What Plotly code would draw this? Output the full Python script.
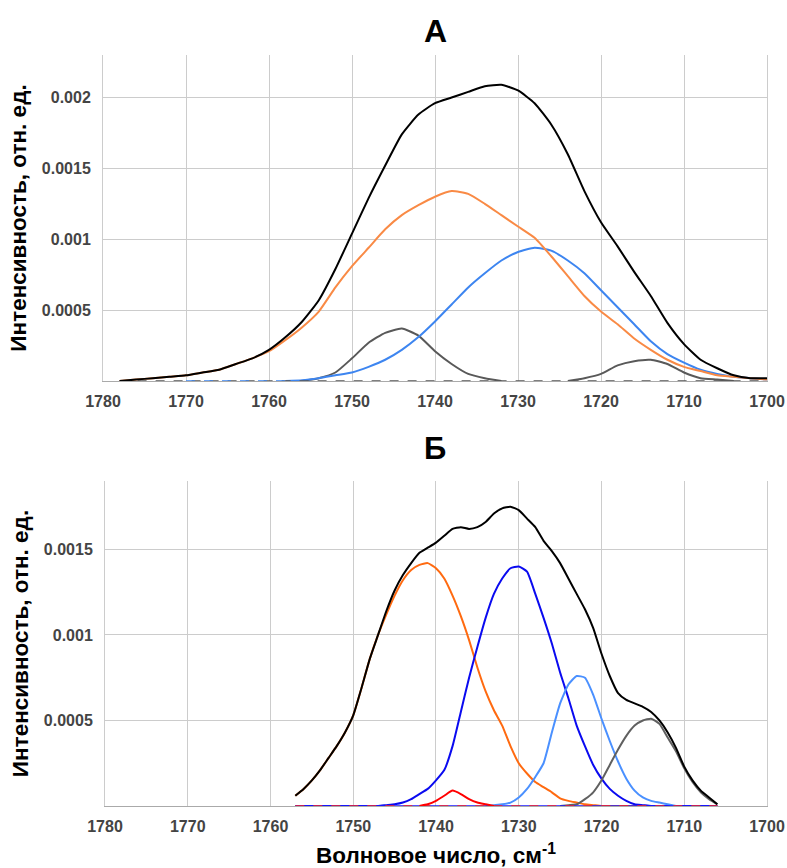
import plotly.graph_objects as go

# ---------------- Panel A data ----------------
x_top = [1778, 1776, 1774, 1772, 1770, 1768, 1766, 1764, 1762, 1760,
         1758, 1756, 1754, 1752, 1750, 1748, 1746, 1744, 1742, 1740,
         1738, 1736, 1734, 1732, 1730, 1728, 1726, 1724, 1722, 1720,
         1718, 1716, 1714, 1712, 1710, 1708, 1706, 1704, 1702, 1700]

a_total = [0.0, 0.00001, 0.00002, 0.00003, 0.00004, 0.00006, 0.00008, 0.00012, 0.00016, 0.00022,
           0.00031, 0.00042, 0.00057, 0.00079, 0.00104, 0.00129, 0.00152, 0.00174, 0.00188, 0.00196,
           0.00200, 0.00204, 0.00208, 0.00209, 0.00205, 0.00196, 0.00181, 0.00160, 0.00134, 0.00112,
           0.00095, 0.00077, 0.00060, 0.00041, 0.00026, 0.00015, 0.00009, 0.00004, 0.00002, 0.00002]

a_orange = [0.0, 0.00001, 0.00002, 0.00003, 0.00004, 0.00006, 0.00008, 0.00012, 0.00016, 0.00021,
            0.00029, 0.00038, 0.00049, 0.00066, 0.00081, 0.00094, 0.00107, 0.00117, 0.00124, 0.00130,
            0.00134, 0.00132, 0.00125, 0.00117, 0.00109, 0.00101, 0.00088, 0.00074, 0.00060, 0.00049,
            0.00040, 0.00030, 0.00022, 0.00015, 0.00010, 0.00007, 0.00004, 0.00003, 0.00002, 0.00001]

a_blue = [None, None, None, None, None, None, None, None, None, None,
          0.0, 0.000005, 0.00002, 0.00004, 0.00006, 0.00010, 0.00015, 0.00022, 0.00031, 0.00042,
          0.00054, 0.00066, 0.00076, 0.00085, 0.00091, 0.00094, 0.00092, 0.00085, 0.00076, 0.00064,
          0.00052, 0.00040, 0.00028, 0.00019, 0.00013, 0.00008, 0.00005, 0.00003, 0.00002, 0.00001]

x_a_gray1 = [1756, 1754, 1752, 1750, 1748, 1746, 1744, 1742, 1740, 1738, 1736, 1734, 1732]
a_gray1 = [0.0, 0.00002, 0.00006, 0.00016, 0.00027, 0.00034, 0.00037, 0.00032, 0.00021, 0.00012,
           0.00005, 0.00002, 0.0]

x_a_gray2 = [1724, 1722, 1720, 1718, 1716, 1714, 1712, 1710, 1708, 1706, 1704]
a_gray2 = [0.0, 0.00002, 0.00005, 0.00011, 0.00014, 0.00015, 0.00012, 0.00006, 0.00002, 0.00001, 0.0]

x_a_base = [1778, 1700]
a_base = [0.0, 0.0]
x_a_blue_base = [1770, 1758]
a_blue_base = [0.0, 0.0]

# ---------------- Panel Б data ----------------
x_bot = [1757, 1756, 1755, 1754, 1753, 1752, 1751, 1750, 1749, 1748,
         1747, 1746, 1745, 1744, 1743, 1742, 1741, 1740, 1739, 1738,
         1737, 1736, 1735, 1734, 1733, 1732, 1731, 1730, 1729, 1728,
         1727, 1726, 1725, 1724, 1723, 1722, 1721, 1720, 1719, 1718,
         1717, 1716, 1715, 1714, 1713, 1712, 1711, 1710, 1709, 1708,
         1707, 1706]

b_total = [0.00006, 0.00010, 0.00015, 0.00021, 0.00028, 0.00035, 0.00043, 0.00053, 0.00069, 0.00086,
           0.00100, 0.00114, 0.00126, 0.00135, 0.00142, 0.00148, 0.00151, 0.00154, 0.00158, 0.00162,
           0.00163, 0.00162, 0.00163, 0.00166, 0.00171, 0.00174, 0.00175, 0.00173, 0.00168, 0.00163,
           0.00155, 0.00149, 0.00142, 0.00133, 0.00124, 0.00115, 0.00104, 0.00089, 0.00076, 0.00066,
           0.00062, 0.00060, 0.00058, 0.00055, 0.00050, 0.00043, 0.00034, 0.00023, 0.00015, 0.00009,
           0.00005, 0.00001]

b_orange = [0.00006, 0.00010, 0.00015, 0.00021, 0.00028, 0.00035, 0.00043, 0.00053, 0.00069, 0.00086,
            0.00100, 0.00112, 0.00123, 0.00132, 0.00138, 0.00141, 0.00142, 0.00139, 0.00133, 0.00123,
            0.00111, 0.00097, 0.00081, 0.00067, 0.00056, 0.00047, 0.00035, 0.00025, 0.00019, 0.00014,
            0.00011, 0.00008, 0.000045, 0.00003, 0.00002, 0.00001, 0.000005, 0.0, 0.0, 0.0,
            0.0, 0.0, 0.0, 0.0, 0.0, 0.0, 0.0, 0.0, 0.0, 0.0,
            0.0, 0.0]

b_blue = [0.0, 0.0, 0.0, 0.0, 0.0, 0.0, 0.0, 0.0, 0.0, 0.0,
          0.0, 0.000005, 0.00001, 0.00002, 0.00004, 0.00007, 0.00010, 0.00015, 0.00021, 0.00035,
          0.00055, 0.00075, 0.00093, 0.00110, 0.00124, 0.00133, 0.00139, 0.00140, 0.00137, 0.00124,
          0.00110, 0.00095, 0.00078, 0.00063, 0.00047, 0.00035, 0.00024, 0.00016, 0.00010, 0.00006,
          0.00003, 0.00001, 0.000005, 0.0, 0.0, 0.0, 0.0, 0.0, 0.0, 0.0,
          0.0, 0.0]

x_b_light = [1734, 1733, 1732, 1731, 1730, 1729, 1728, 1727, 1726, 1725,
             1724, 1723, 1722, 1721, 1720, 1719, 1718, 1717, 1716, 1715,
             1714, 1713, 1712, 1711]
b_light = [0.0, 0.000005, 0.00001, 0.00002, 0.00005, 0.00010, 0.00017, 0.00025, 0.00043, 0.00060,
           0.00071, 0.00076, 0.00075, 0.00065, 0.00051, 0.00038, 0.00026, 0.00016, 0.00009, 0.00005,
           0.00003, 0.00002, 0.00001, 0.0]

x_b_gray = [1725, 1724, 1723, 1722, 1721, 1720, 1719, 1718, 1717, 1716,
            1715, 1714, 1713, 1712, 1711, 1710, 1709, 1708, 1707, 1706]
b_gray = [0.0, 0.000005, 0.00001, 0.00004, 0.00008, 0.00015, 0.00024, 0.00033, 0.00041, 0.00047,
          0.00050, 0.00051, 0.00048, 0.00040, 0.00032, 0.00022, 0.00014, 0.00008, 0.00004, 0.00001]

x_b_red = [1742, 1741, 1740, 1739, 1738, 1737, 1736, 1735, 1734, 1733]
b_red = [0.0, 0.00001, 0.00003, 0.00006, 0.00009, 0.00007, 0.00004, 0.00002, 0.00001, 0.0]

x_b_base = [1757, 1706]
b_base = [0.0, 0.0]

y_ticks_top = [0.0005, 0.001, 0.0015, 0.002]
y_text_top = ["0.0005", "0.001", "0.0015", "0.002"]
y_ticks_bot = [0.0005, 0.001, 0.0015]
y_text_bot = ["0.0005", "0.001", "0.0015"]
x_ticks = [1780, 1770, 1760, 1750, 1740, 1730, 1720, 1710, 1700]

# ---------------- Figure ----------------
FONT = "Liberation Sans"
fig = go.Figure()


def line(x, y, color, xa, ya, width=2, dash="solid"):
    fig.add_trace(go.Scatter(
        x=x, y=y, mode="lines", xaxis=xa, yaxis=ya,
        line=dict(color=color, width=width, dash=dash, shape="spline", smoothing=0.5),
        showlegend=False, hoverinfo="skip"))


# Panel A
line(x_a_gray1, a_gray1, "#595959", "x", "y")
line(x_a_gray2, a_gray2, "#595959", "x", "y")
line(x_top, a_blue, "#3d85f0", "x", "y")
line(x_top, a_orange, "#f98a45", "x", "y")
line(x_a_base, a_base, "#555555", "x", "y", 1.5, "dash")
line(x_a_blue_base, a_blue_base, "#3d85f0", "x", "y", 1.5, "dash")
line(x_top, a_total, "#000000", "x", "y")

# Panel Б
line(x_bot, b_orange, "#ff6a10", "x2", "y2")
line(x_bot, b_blue, "#0a0af0", "x2", "y2")
line(x_b_light, b_light, "#4a90ff", "x2", "y2")
line(x_b_gray, b_gray, "#606060", "x2", "y2")
line(x_b_base, b_base, "#1a1aff", "x2", "y2", 1.5)
line(x_b_base, b_base, "#ff2020", "x2", "y2", 1.5, "dash")
line(x_b_red, b_red, "#ff0000", "x2", "y2")
line(x_bot, b_total, "#000000", "x2", "y2")

tickfont = dict(family=FONT, size=16, color="#444444", weight="bold")
title_font = dict(family=FONT, size=22.5, color="#000000", weight="bold")

H = 868
mt, mb = 55, 62
ph = H - mt - mb


def py(p):
    return (H - mb - p) / ph


xcommon = dict(range=[1780, 1700], tickvals=x_ticks, showgrid=True, gridcolor="#cccccc",
               gridwidth=1, zeroline=False, showline=True, linecolor="#aaaaaa", linewidth=1,
               tickfont=tickfont, ticks="outside", ticklen=6, tickcolor="rgba(0,0,0,0)",
               automargin=False, layer="below traces")
ycommon = dict(showgrid=True, gridcolor="#cccccc", gridwidth=1, zeroline=False,
               showline=True, linecolor="#cccccc", mirror=True, tickfont=tickfont,
               ticks="outside", ticklen=8, tickcolor="rgba(0,0,0,0)", automargin=False,
               layer="below traces",
               title=dict(text="Интенсивность, отн. ед.", font=title_font, standoff=8))

fig.update_layout(
    width=787, height=868,
    margin=dict(l=103, r=20, t=mt, b=mb),
    paper_bgcolor="white", plot_bgcolor="white",
    xaxis=dict(domain=[0, 1], anchor="y", **xcommon),
    yaxis=dict(domain=[py(381), 1], anchor="x", range=[0, 0.0023],
               tickvals=y_ticks_top, ticktext=y_text_top, **ycommon),
    xaxis2=dict(domain=[0.003, 1], anchor="y2",
                title=dict(text="Волновое число, см<sup>-1</sup>", font=title_font, standoff=20),
                **xcommon),
    yaxis2=dict(domain=[0, py(481)], anchor="x2", range=[0, 0.0019],
                tickvals=y_ticks_bot, ticktext=y_text_bot, **ycommon),
    annotations=[
        dict(text="А", x=0.5, y=py(31), xref="paper", yref="paper", showarrow=False,
             font=dict(family=FONT, size=32, color="#000000", weight="bold"),
             xanchor="center", yanchor="middle"),
        dict(text="Б", x=0.5, y=py(448), xref="paper", yref="paper", showarrow=False,
             font=dict(family=FONT, size=31, color="#000000", weight="bold"),
             xanchor="center", yanchor="middle"),
    ],
)

fig.write_html("out.html")
